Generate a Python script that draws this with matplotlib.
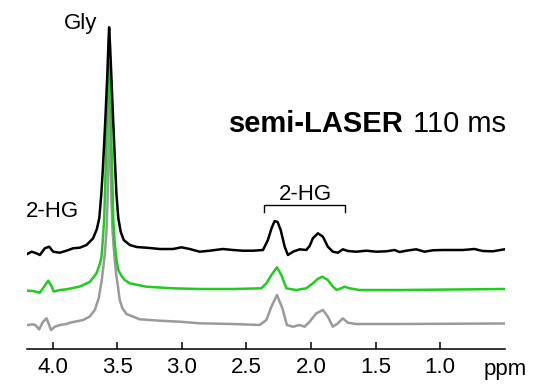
import matplotlib
matplotlib.use('Agg')
import matplotlib.pyplot as plt

plt.rcParams['font.family'] = ['Liberation Sans', 'DejaVu Sans']

# black trace (top), ppm / intensity (a.u.) above its own baseline
black_ppm = [4.196, 4.162, 4.124, 4.098, 4.060, 4.026, 3.995, 3.944, 3.892, 3.841,
             3.789, 3.737, 3.686, 3.657, 3.638, 3.623, 3.611, 3.599, 3.588, 3.576,
             3.568, 3.562, 3.555, 3.545, 3.534, 3.524, 3.514, 3.505, 3.491, 3.472,
             3.449, 3.402, 3.348, 3.248, 3.170, 3.067, 3.002, 2.938, 2.861, 2.783,
             2.681, 2.603, 2.526, 2.449, 2.371, 2.333, 2.304, 2.281, 2.258, 2.234,
             2.203, 2.178, 2.139, 2.087, 2.036, 2.010, 1.985, 1.946, 1.907, 1.869,
             1.830, 1.791, 1.753, 1.714, 1.649, 1.572, 1.494, 1.417, 1.353, 1.314,
             1.262, 1.185, 1.121, 1.057, 0.979, 0.902, 0.824, 0.734, 0.670, 0.592,
             0.502]
black_int = [-3.5, -1.2, -2.8, -4.5, 2.2, 3.8, -1.2, -2.2, -0.2, 2.2,
             2.8, 5.5, 12.2, 21.5, 32.5, 55.5, 80.5, 110.5, 140.5, 175.5,
             205.5, 223.2, 205.5, 175.5, 140.5, 110.5, 80.5, 55.5, 32.5, 18.5,
             10.5, 5.5, 3.5, 2.5, 1.5, 1.5, 3.2, 1.5, -1.2, -0.2,
             1.5, 0.5, -0.2, -0.2, 0.5, 10.5, 22.5, 29.5, 28.5, 20.5,
             3.8, -4.5, -1.2, 1.2, 0.5, 4.5, 12.2, 17.2, 13.8, 3.8,
             -1.2, -2.2, 1.2, -0.5, -1.2, -0.2, -1.2, -0.8, 0.5, -1.5,
             -0.2, 1.2, -1.2, 0.2, 0.5, 0.5, 0.5, 1.5, -0.5, -0.8,
             1.2]

# green trace (middle)
green_ppm = [4.196, 4.150, 4.098, 4.067, 4.034, 4.013, 3.990, 3.944, 3.892, 3.841,
             3.789, 3.712, 3.660, 3.634, 3.621, 3.611, 3.601, 3.593, 3.585, 3.578,
             3.571, 3.565, 3.558, 3.551, 3.543, 3.535, 3.530, 3.518, 3.505, 3.491,
             3.466, 3.441, 3.402, 3.273, 3.067, 2.861, 2.603, 2.384, 2.345, 2.306,
             2.263, 2.229, 2.190, 2.113, 2.036, 1.985, 1.948, 1.912, 1.869, 1.830,
             1.799, 1.739, 1.701, 1.623, 1.314, 0.502]
green_int = [-2.2, -2.5, -4.2, 1.5, 7.8, 3.5, -3.0, -1.5, -0.8, 0.5,
             2.0, 6.5, 15.2, 24.5, 31.8, 48.5, 68.5, 98.5, 138.5, 178.5,
             208.5, 226.5, 208.5, 178.5, 138.5, 98.5, 68.5, 43.5, 28.5, 18.5,
             12.5, 8.5, 5.2, 1.8, 0.2, -0.5, -0.5, 0.2, 5.2, 13.5,
             21.2, 13.5, 0.2, -1.5, 0.2, 5.2, 9.5, 11.8, 8.5, 1.8,
             -1.5, 1.8, 0.2, -1.5, -1.5, -0.5]

# gray trace (bottom)
gray_ppm = [4.196, 4.150, 4.129, 4.104, 4.075, 4.046, 4.029, 4.012, 3.982, 3.944,
            3.892, 3.866, 3.763, 3.712, 3.673, 3.642, 3.619, 3.596, 3.582, 3.574,
            3.568, 3.563, 3.560, 3.556, 3.551, 3.544, 3.536, 3.522, 3.507, 3.493,
            3.480, 3.460, 3.428, 3.325, 3.170, 3.015, 2.861, 2.603, 2.397, 2.345,
            2.306, 2.263, 2.221, 2.186, 2.139, 2.087, 2.049, 2.010, 1.958, 1.907,
            1.869, 1.830, 1.791, 1.753, 1.714, 1.649, 1.314, 0.502]
gray_int = [-1.5, -0.8, -2.0, -6.0, 1.5, 5.2, -0.5, -6.5, -3.2, -1.5,
            -0.5, 0.8, 3.5, 7.0, 13.5, 25.5, 43.5, 68.5, 93.5, 123.5,
            163.5, 203.5, 231.5, 203.5, 163.5, 123.5, 93.5, 68.5, 48.5, 36.5,
            23.5, 15.5, 9.5, 4.2, 2.8, 1.8, 0.2, -0.5, -1.5, 3.5,
            16.8, 28.5, 15.2, -1.5, -3.2, -1.5, -3.2, 1.8, 10.2, 13.5,
            6.8, -3.2, 0.2, 5.2, 0.8, -0.5, -0.5, 0.0]

tick_ppm = [4.0, 3.5, 3.0, 2.5, 2.0, 1.5, 1.0]
tick_labels = ['4.0', '3.5', '3.0', '2.5', '2.0', '1.5', '1.0']

# vertical offsets of the stacked spectra
off_black = 98.8
off_green = 60.8
off_gray = 25.8

fig = plt.figure(figsize=(5.33, 3.85), dpi=100)
ax = fig.add_axes([0.0501, 0.0927, 0.8968, 0.9073])

ax.plot(gray_ppm, [v + off_gray for v in gray_int], color='#9a9a9a', lw=1.8)
ax.plot(green_ppm, [v + off_green for v in green_int], color='#1fcc1f', lw=1.8)
ax.plot(black_ppm, [v + off_black for v in black_int], color='black', lw=1.8)

ax.set_xlim(4.2, 0.5)
ax.set_ylim(0, 349.3)
for s in ['left', 'right', 'top']:
    ax.spines[s].set_visible(False)
ax.spines['bottom'].set_linewidth(1.1)
ax.set_yticks([])
ax.set_xticks(tick_ppm)
ax.set_xticklabels(tick_labels)
ax.tick_params(axis='x', direction='in', length=5, width=1.1, pad=5.5, labelsize=16)

ax.text(0.5, -25.5, 'ppm', ha='center', va='baseline', fontsize=16, clip_on=False)
ax.text(3.781, 320.3, 'Gly', ha='center', va='baseline', fontsize=16)
ax.text(4.0, 132, '2-HG', ha='center', va='baseline', fontsize=16)

# bracket over the 2-HG multiplets
ax.plot([2.363, 2.363, 1.734, 1.734], [137.6, 144.3, 144.3, 137.6], color='black', lw=1.0)
ax.text(2.04, 149.3, '2-HG', ha='center', va='baseline', fontsize=16)

ax.text(1.283, 217.6, 'semi-LASER', ha='right', va='baseline', fontsize=21, fontweight='bold')
ax.text(1.206, 217.6, '110 ms', ha='left', va='baseline', fontsize=21)

fig.savefig('out.png', dpi=100)
